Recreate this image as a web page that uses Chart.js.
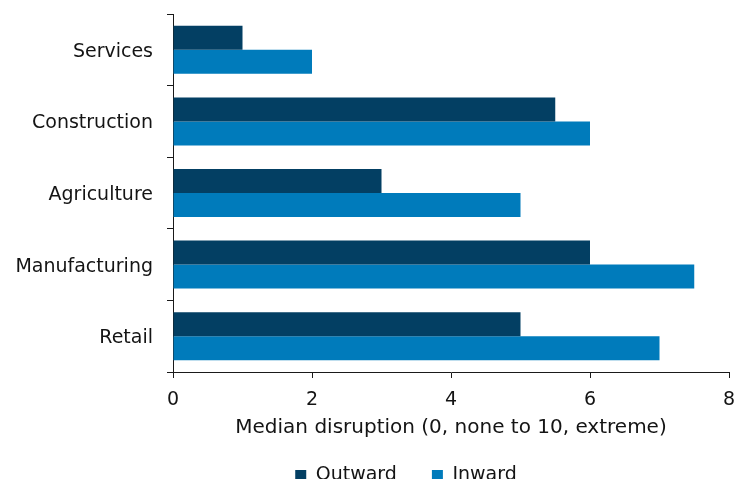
<!DOCTYPE html>
<html>
<head>
<meta charset="utf-8">
<script src="https://cdn.jsdelivr.net/npm/chart.js@4"></script>
<style>
    html, body { margin: 0; padding: 0; background: #fff; overflow: hidden; }
</style>
</head>
<body>
<canvas id="myChart" width="735" height="495"></canvas>
<script>
// chart data
const categories = ['Services', 'Construction', 'Agriculture', 'Manufacturing', 'Retail'];
const outward = [1, 5.5, 3, 6, 5];
const inward = [2, 6, 5, 7.5, 7];
const xTicks = [0, 2, 4, 6, 8];

const axisColor = '#1a1a1a';
const textColor = '#141414';

// legend sits centred under the plot, not under the whole canvas
const legendShift = {
    id: 'legendShift',
    afterLayout: (chart) => {
        chart.legend.left = 83;
    }
};

window.onload = () => {
    buildChart();
}

const buildChart = () => {
    var ctx = document.getElementById('myChart').getContext('2d');
    Chart.defaults.font.family = '"DejaVu Sans", Verdana, sans-serif';
    Chart.defaults.font.size = 19;
    Chart.defaults.color = textColor;

    var chart = new Chart(ctx, {
        type: 'bar',
        data: {
            labels: categories,
            datasets: [{
                label: 'Outward',
                backgroundColor: '#033f63',
                data: outward
            }, {
                label: 'Inward',
                backgroundColor: '#007bbb',
                data: inward
            }]
        },
        options: {
            indexAxis: 'y',
            responsive: false,
            animation: false,
            devicePixelRatio: 1,
            categoryPercentage: 0.67,
            barPercentage: 1,
            layout: {
                padding: { left: 0, right: 6, top: 14, bottom: 0 }
            },
            plugins: {
                tooltip: { enabled: false },
                legend: {
                    position: 'bottom',
                    labels: {
                        boxWidth: 11,
                        boxHeight: 11,
                        padding: 35,
                        color: textColor
                    }
                }
            },
            scales: {
                x: {
                    min: 0,
                    max: 8,
                    afterBuildTicks: (axis) => {
                        axis.ticks = xTicks.map((v) => ({ value: v }));
                    },
                    afterFit: (axis) => {
                        axis.height = 59;
                        axis.paddingLeft = 0;
                        axis.paddingRight = 0;
                    },
                    grid: {
                        drawOnChartArea: false,
                        tickLength: 6,
                        color: axisColor
                    },
                    border: { color: axisColor, width: 1 },
                    ticks: { padding: 11, color: textColor },
                    title: {
                        display: true,
                        text: 'Median disruption (0, none to 10, extreme)',
                        color: textColor,
                        font: { size: 20 },
                        padding: { top: 0, bottom: -9 }
                    }
                },
                y: {
                    afterFit: (axis) => {
                        axis.width = 173;
                        axis.paddingTop = 0;
                        axis.paddingBottom = 0;
                    },
                    grid: {
                        drawOnChartArea: false,
                        tickLength: 6,
                        color: axisColor
                    },
                    border: { color: axisColor, width: 1 },
                    ticks: { padding: 14, labelOffset: 2, color: textColor }
                }
            }
        },
        plugins: [legendShift]
    });
}
</script>
</body>
</html>
